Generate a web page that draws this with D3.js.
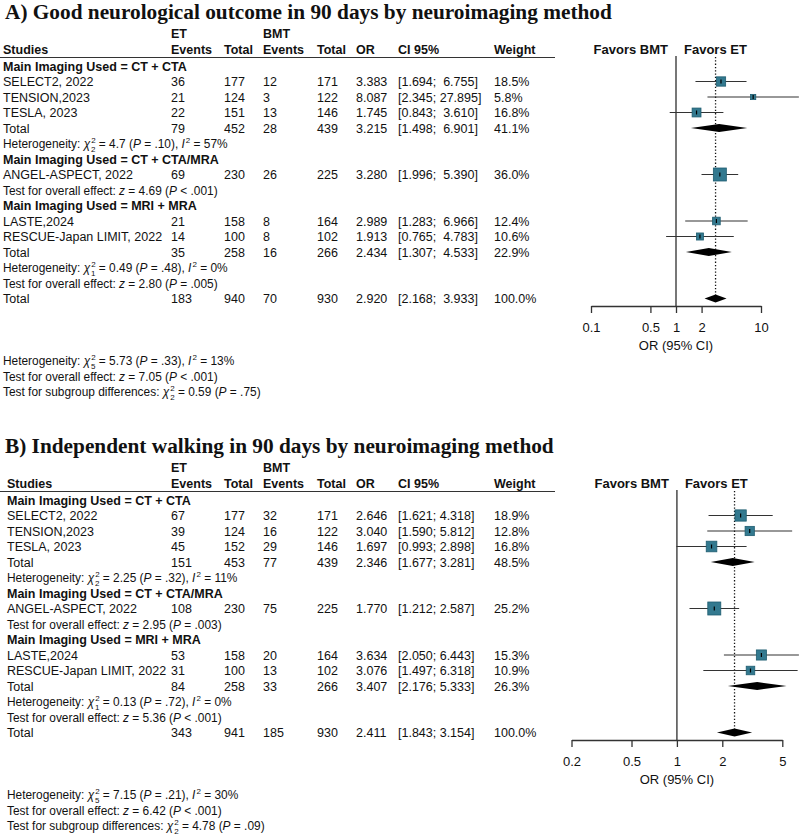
<!DOCTYPE html>
<html><head><meta charset="utf-8">
<script src="https://cdn.jsdelivr.net/npm/d3@7"></script>
<style>
body{margin:0;background:#fff}
svg text{font-family:"Liberation Sans",Arial,sans-serif;fill:#111;white-space:pre;font-size:12.5px}
.title{font-family:"Liberation Serif","Times New Roman",serif !important;font-weight:bold;font-size:21.3px !important}
.b{font-weight:bold}
.small{font-size:11.9px !important}
</style></head><body><div id="chart"></div>
<script>
var groupNames = ['Main Imaging Used = CT + CTA', 'Main Imaging Used = CT + CTA/MRA', 'Main Imaging Used = MRI + MRA']
var studyNames = ['SELECT2, 2022', 'TENSION,2023', 'TESLA, 2023', 'ANGEL-ASPECT, 2022', 'LASTE,2024', 'RESCUE-Japan LIMIT, 2022']
var studyGroup = [0, 0, 0, 1, 2, 2]

// A) good neurological outcome
var titleA = 'A) Good neurological outcome in 90 days by neuroimaging method'
var etEventsA = [36, 21, 22, 69, 21, 14]
var etTotalA = [177, 124, 151, 230, 158, 100]
var bmtEventsA = [12, 3, 13, 26, 8, 8]
var bmtTotalA = [171, 122, 146, 225, 164, 102]
var orA = [3.383, 8.087, 1.745, 3.280, 2.989, 1.913]
var loA = [1.694, 2.345, 0.843, 1.996, 1.283, 0.765]
var hiA = [6.755, 27.895, 3.610, 5.390, 6.966, 4.783]
var weightA = [18.5, 5.8, 16.8, 36.0, 12.4, 10.6]
// subgroup totals (null = no total row)
var subEtEventsA = [79, null, 35]
var subEtTotalA = [452, null, 258]
var subBmtEventsA = [28, null, 16]
var subBmtTotalA = [439, null, 266]
var subOrA = [3.215, null, 2.434]
var subLoA = [1.498, null, 1.307]
var subHiA = [6.901, null, 4.533]
var subWeightA = [41.1, null, 22.9]
var hetA = [['2', '4.7', '.10', '57'], null, ['1', '0.49', '.48', '0']]
var testA = [null, ['4.69', '< .001'], ['2.80', '= .005']]
var overallA = [183, 940, 70, 930, 2.920, 2.168, 3.933, 100.0]
var overallHetA = ['5', '5.73', '.33', '13']
var overallTestA = ['7.05', '< .001']
var subgroupTestA = ['2', '0.59', '.75']
var ticksA = [0.1, 0.5, 1, 2, 10]

// B) independent walking
var titleB = 'B) Independent walking in 90 days by neuroimaging method'
var etEventsB = [67, 39, 45, 108, 53, 31]
var etTotalB = [177, 124, 152, 230, 158, 100]
var bmtEventsB = [32, 16, 29, 75, 20, 13]
var bmtTotalB = [171, 122, 146, 225, 164, 102]
var orB = [2.646, 3.040, 1.697, 1.770, 3.634, 3.076]
var loB = [1.621, 1.590, 0.993, 1.212, 2.050, 1.497]
var hiB = [4.318, 5.812, 2.898, 2.587, 6.443, 6.318]
var weightB = [18.9, 12.8, 16.8, 25.2, 15.3, 10.9]
var subEtEventsB = [151, null, 84]
var subEtTotalB = [453, null, 258]
var subBmtEventsB = [77, null, 33]
var subBmtTotalB = [439, null, 266]
var subOrB = [2.346, null, 3.407]
var subLoB = [1.677, null, 2.176]
var subHiB = [3.281, null, 5.333]
var subWeightB = [48.5, null, 26.3]
var hetB = [['2', '2.25', '.32', '11'], null, ['1', '0.13', '.72', '0']]
var testB = [null, ['2.95', '= .003'], ['5.36', '< .001']]
var overallB = [343, 941, 185, 930, 2.411, 1.843, 3.154, 100.0]
var overallHetB = ['5', '7.15', '.21', '30']
var overallTestB = ['6.42', '< .001']
var subgroupTestB = ['2', '4.78', '.09']
var ticksB = [0.2, 0.5, 1, 2, 5]

var svg = d3.select('#chart').append('svg').attr('width', 800).attr('height', 835)
svg.append('rect').attr('width', 800).attr('height', 835).attr('fill', '#fff')

var rowH = 15.5
var f3 = d3.format('.3f'), f1 = d3.format('.1f')

function drawPanel(p) {
  var g = svg.append('g').attr('transform', 'translate(0,' + p.dy + ')')
  var col = {name: p.nameX, etE: 171, etT: 224, bmtE: 263, bmtT: 317, or: 356, ci: 398, w: 494}

  g.append('text').attr('class', 'title').attr('x', 5).attr('y', 19).text(p.title)

  // header
  var hdr = g.append('g')
  hdr.append('text').attr('class', 'b').attr('x', col.etE).attr('y', 38).text('ET')
  hdr.append('text').attr('class', 'b').attr('x', col.bmtE).attr('y', 38).text('BMT')
  var heads = [['Studies', col.name], ['Events', col.etE], ['Total', col.etT], ['Events', col.bmtE],
    ['Total', col.bmtT], ['OR', col.or], ['CI 95%', col.ci], ['Weight', col.w]]
  heads.forEach(function(h){
    hdr.append('text').attr('class', 'b').attr('x', h[1]).attr('y', 54).text(h[0])
  })
  g.append('line').attr('x1', 0).attr('x2', 555).attr('y1', 57.5).attr('y2', 57.5)
    .attr('stroke', '#333').attr('stroke-width', 1.2)

  // build rows
  var rows = []
  groupNames.forEach(function(gn, gi){
    rows.push({type: 'group', label: gn})
    studyNames.forEach(function(s, i){
      if (studyGroup[i] != gi) return
      rows.push({type: 'study', label: s, v: [p.etEvents[i], p.etTotal[i], p.bmtEvents[i], p.bmtTotal[i]],
        or: p.or[i], lo: p.lo[i], hi: p.hi[i], w: p.weight[i]})
    })
    if (p.subOr[gi] != null) rows.push({type: 'total', label: 'Total',
      v: [p.subEtEvents[gi], p.subEtTotal[gi], p.subBmtEvents[gi], p.subBmtTotal[gi]],
      or: p.subOr[gi], lo: p.subLo[gi], hi: p.subHi[gi], w: p.subWeight[gi]})
    if (p.het[gi]) rows.push({type: 'het', s: p.het[gi]})
    if (p.test[gi]) rows.push({type: 'test', s: p.test[gi]})
  })
  var o = p.overall
  rows.push({type: 'overall', label: 'Total', v: o.slice(0, 4), or: o[4], lo: o[5], hi: o[6], w: o[7]})
  rows.push({type: 'blank'}, {type: 'blank'}, {type: 'blank'})
  rows.push({type: 'het', s: p.overallHet})
  rows.push({type: 'test', s: p.overallTest})
  rows.push({type: 'sub', s: p.subgroupTest})

  var y0 = 66
  rows.forEach(function(r, i){ r.y = y0 + i * rowH })

  var hiMax = d3.max(rows.filter(function(r){ return r.hi != null }), function(r){ return f3(r.hi).length })
  function ciText(r){
    var h = f3(r.hi)
    while (h.length < hiMax) h = ' ' + h
    return '[' + f3(r.lo) + '; ' + h + ']'
  }

  var tbl = g.append('g')
  rows.forEach(function(r){
    var ty = r.y + 4.5
    if (r.type == 'group') {
      tbl.append('text').attr('class', 'b').attr('x', col.name).attr('y', ty).text(r.label)
    } else if (r.type == 'study' || r.type == 'total' || r.type == 'overall') {
      tbl.append('text').attr('x', col.name).attr('y', ty).text(r.label)
      var xs = [col.etE, col.etT, col.bmtE, col.bmtT]
      r.v.forEach(function(v, k){ tbl.append('text').attr('x', xs[k]).attr('y', ty).text(v) })
      tbl.append('text').attr('x', col.or).attr('y', ty).text(f3(r.or))
      tbl.append('text').attr('x', col.ci).attr('y', ty).text(ciText(r))
      tbl.append('text').attr('x', col.w).attr('y', ty).text(f1(r.w) + '%')
    } else if (r.type == 'het') {
      richText(tbl, col.name, ty, [['Heterogeneity: '], ['χ', 'i'], ['2', 'sup'], [r.s[0], 'sub'],
        [' = ' + r.s[1] + ' (', 'back'], ['P', 'i'], [' = ' + r.s[2] + '), '], ['I', 'i'], ['2', 'sup'], [' = ' + r.s[3] + '%', 'down']])
    } else if (r.type == 'test') {
      richText(tbl, col.name, ty, [['Test for overall effect: '], ['z', 'i'], [' = ' + r.s[0] + ' ('], ['P', 'i'], [' ' + r.s[1] + ')']])
    } else if (r.type == 'sub') {
      richText(tbl, col.name, ty, [['Test for subgroup differences: '], ['χ', 'i'], ['2', 'sup'], [r.s[0], 'sub'],
        [' = ' + r.s[1] + ' (', 'back'], ['P', 'i'], [' = ' + r.s[2] + ')']])
    }
  })

  // forest plot
  var x = d3.scaleLog().domain(p.domain).range(p.range)
  var sq = d3.scaleSqrt().domain([0, d3.max(p.weight)]).range([0, 13])
  var fp = g.append('g')
  var axisY = 306
  var lastY = rows.filter(function(r){ return r.type == 'overall' })[0].y

  fp.append('text').attr('class', 'b').attr('x', x(1) - 8).attr('y', 54).attr('text-anchor', 'end')
    .style('font-size', '13px').text('Favors BMT')
  fp.append('text').attr('class', 'b').attr('x', x(1) + 8).attr('y', 54)
    .style('font-size', '13px').text('Favors ET')

  fp.append('line').attr('x1', x(1)).attr('x2', x(1)).attr('y1', 56).attr('y2', axisY)
    .attr('stroke', '#555').attr('stroke-width', 1.6)
  fp.append('line').attr('x1', x(o[4])).attr('x2', x(o[4])).attr('y1', 57).attr('y2', lastY)
    .attr('stroke', '#111').attr('stroke-width', 1.3).attr('stroke-dasharray', '1.3,2')

  rows.forEach(function(r){
    if (r.type == 'study') {
      fp.append('line').attr('x1', x(r.lo)).attr('x2', x(r.hi)).attr('y1', r.y).attr('y2', r.y)
        .attr('stroke', '#333').attr('stroke-width', 1.1)
      var s = sq(r.w)
      fp.append('rect').attr('x', x(r.or) - s / 2).attr('y', r.y - s / 2).attr('width', s).attr('height', s)
        .attr('fill', '#33798f').attr('stroke', '#1f5d70').attr('stroke-width', 0.8)
      fp.append('line').attr('x1', x(r.or)).attr('x2', x(r.or)).attr('y1', r.y - 2).attr('y2', r.y + 2)
        .attr('stroke', '#000').attr('stroke-width', 1.2)
    } else if (r.type == 'total' || r.type == 'overall') {
      var pts = [[x(r.lo), r.y], [x(r.or), r.y - 4], [x(r.hi), r.y], [x(r.or), r.y + 4]]
      fp.append('path').attr('d', 'M' + pts.join('L') + 'Z').attr('fill', '#000')
    }
  })

  var ax = fp.append('g').attr('transform', 'translate(0,' + axisY + ')')
    .call(d3.axisBottom(x).tickValues(p.ticks).tickSize(7).tickSizeOuter(0).tickPadding(10)
      .tickFormat(function(d){ return String(d) }))
  ax.selectAll('path,line').attr('stroke', '#333').attr('stroke-width', 1.3)
  ax.attr('font-size', null).attr('font-family', null)
  ax.selectAll('text').attr('fill', '#222').style('font-size', '13px')
  fp.append('text').attr('x', x(1)).attr('y', axisY + 44).attr('text-anchor', 'middle')
    .style('font-size', '13px').text('OR (95% CI)')
}

function richText(sel, x0, y, parts) {
  var t = sel.append('text').attr('class', 'small').attr('x', x0).attr('y', y)
  parts.forEach(function(pt){
    var ts = t.append('tspan').text(pt[0])
    var k = pt[1]
    if (k == 'i') ts.style('font-style', 'italic')
    if (k == 'sup') ts.attr('dy', -5).attr('dx', 1).style('font-size', '8px')
    if (k == 'sub') ts.attr('dy', 9).attr('dx', -4.5).style('font-size', '8px')
    if (k == 'back') ts.attr('dy', -4)
    if (k == 'down') ts.attr('dy', 5)
  })
}

drawPanel({dy: 0, nameX: 3, title: titleA, etEvents: etEventsA, etTotal: etTotalA, bmtEvents: bmtEventsA, bmtTotal: bmtTotalA,
  or: orA, lo: loA, hi: hiA, weight: weightA, subEtEvents: subEtEventsA, subEtTotal: subEtTotalA,
  subBmtEvents: subBmtEventsA, subBmtTotal: subBmtTotalA, subOr: subOrA, subLo: subLoA, subHi: subHiA,
  subWeight: subWeightA, het: hetA, test: testA, overall: overallA, overallHet: overallHetA,
  overallTest: overallTestA, subgroupTest: subgroupTestA, ticks: ticksA, domain: [0.1, 10], range: [591, 761]})

drawPanel({dy: 434, nameX: 7, title: titleB, etEvents: etEventsB, etTotal: etTotalB, bmtEvents: bmtEventsB, bmtTotal: bmtTotalB,
  or: orB, lo: loB, hi: hiB, weight: weightB, subEtEvents: subEtEventsB, subEtTotal: subEtTotalB,
  subBmtEvents: subBmtEventsB, subBmtTotal: subBmtTotalB, subOr: subOrB, subLo: subLoB, subHi: subHiB,
  subWeight: subWeightB, het: hetB, test: testB, overall: overallB, overallHet: overallHetB,
  overallTest: overallTestB, subgroupTest: subgroupTestB, ticks: ticksB, domain: [0.2, 5], range: [571.5, 782.3]})
</script></body></html>
